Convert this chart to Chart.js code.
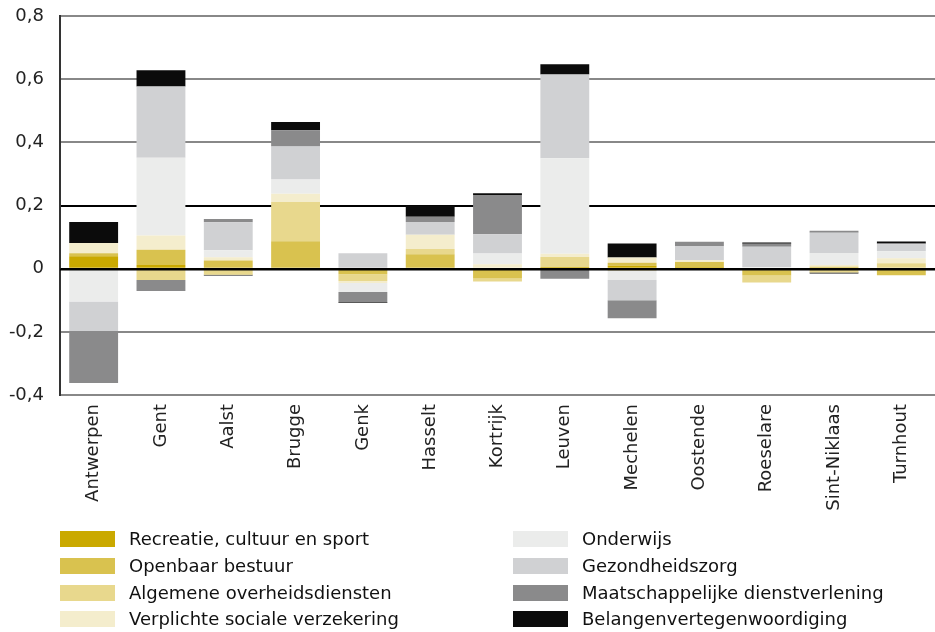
<!DOCTYPE html>
<html>
<head>
<meta charset="utf-8">
<script src="https://cdn.jsdelivr.net/npm/chart.js@4"></script>
<style>
  body { margin: 0; background: #fff; }
  #wrap { position: relative; width: 935px; height: 632px; }
  #legend { position: absolute; left: 0; top: 0; width: 935px; height: 632px; pointer-events: none;
    font-family: "DejaVu Sans", sans-serif; font-size: 18px; color: #111; }
  .item { position: absolute; height: 16px; }
  .sw { position: absolute; left: 0; top: 0; width: 55px; height: 16px; }
  .lbl { position: absolute; left: 69px; top: -4px; white-space: nowrap; line-height: 24px; }
</style>
</head>
<body>
<div id="wrap">
  <canvas id="chart" width="935" height="632"></canvas>
  <div id="legend"></div>
</div>
<script>
const cities = ["Antwerpen", "Gent", "Aalst", "Brugge", "Genk", "Hasselt", "Kortrijk",
  "Leuven", "Mechelen", "Oostende", "Roeselare", "Sint-Niklaas", "Turnhout"];

const seriesNames = [
  "Recreatie, cultuur en sport",
  "Openbaar bestuur",
  "Algemene overheidsdiensten",
  "Verplichte sociale verzekering",
  "Onderwijs",
  "Gezondheidszorg",
  "Maatschappelijke dienstverlening",
  "Belangenvertegenwoordiging"
];

const recreatie   = [0.039, 0.012, -0.004, 0, 0, -0.004, 0, 0.005, 0.009, 0.005, -0.005, 0, 0.003];
const openbaar    = [0.010, 0.048, 0.026, 0.087, -0.018, 0.046, -0.031, 0, 0.010, 0.016, -0.017, 0.006, -0.021];
const algemene    = [0, -0.036, -0.015, 0.124, -0.021, 0.016, -0.010, 0.032, -0.006, 0, -0.022, -0.012, 0.014];
const verplichte  = [0.032, 0.045, 0.010, 0.026, -0.006, 0.045, 0.014, 0.010, 0.016, 0.006, 0, 0.006, 0.016];
const onderwijs   = [-0.104, 0.246, 0.022, 0.045, -0.029, 0, 0.034, 0.303, -0.030, -0.003, 0.005, 0.038, 0.022];
const gezondheid  = [-0.093, 0.226, 0.089, 0.105, 0.049, 0.041, 0.061, 0.265, -0.064, 0.045, 0.064, 0.064, 0.022];
const maatschap   = [-0.165, -0.035, 0.010, 0.051, -0.032, 0.016, 0.124, -0.032, -0.057, 0.013, 0.010, 0.006, 0.003];
const belangen    = [0.067, 0.051, -0.003, 0.026, -0.003, 0.036, 0.006, 0.032, 0.045, 0, 0.004, -0.003, 0.006];

const seriesValues = [recreatie, openbaar, algemene, verplichte, onderwijs, gezondheid, maatschap, belangen];
const colors = ["#caa900", "#d9c24f", "#e8d88d", "#f4edcd", "#ebeceb", "#d0d1d3", "#8a8a8b", "#0b0b0b"];

const yTicks = [-0.4, -0.2, 0, 0.2, 0.4, 0.6, 0.8];

function fmt(v) {
  if (Math.abs(v) < 1e-9) return "0";
  return v.toFixed(1).replace(".", ",");
}

function noPad(s) {
  s.paddingTop = 0; s.paddingBottom = 0; s.paddingLeft = 0; s.paddingRight = 0;
}

// zero line over the bars
const zeroLine = {
  id: "zeroLine",
  afterDatasetsDraw(chart) {
    const { ctx, chartArea, scales } = chart;
    const y = Math.round(scales.y.getPixelForValue(0)) + 0.5;
    ctx.save();
    ctx.strokeStyle = "#000";
    ctx.lineWidth = 2;
    ctx.beginPath();
    ctx.moveTo(chartArea.left, y);
    ctx.lineTo(chartArea.right, y);
    ctx.stroke();
    ctx.restore();
  }
};

const chart = new Chart(document.getElementById("chart").getContext("2d"), {
  type: "bar",
  data: {
    labels: cities,
    datasets: seriesNames.map((name, i) => ({
      label: name,
      data: seriesValues[i],
      backgroundColor: colors[i],
      borderWidth: 0,
      categoryPercentage: 1,
      barPercentage: 0.726
    }))
  },
  options: {
    responsive: false,
    animation: false,
    layout: { padding: { top: 16, right: 0, left: 0, bottom: 0 } },
    plugins: { legend: { display: false }, tooltip: { enabled: false } },
    scales: {
      x: {
        stacked: true,
        grid: { display: false, drawTicks: false },
        border: { display: false },
        ticks: {
          minRotation: 90, maxRotation: 90, padding: 9,
          color: "#222",
          font: { family: "DejaVu Sans", size: 18 }
        },
        afterFit: s => { s.height = 237; noPad(s); }
      },
      y: {
        stacked: true,
        min: -0.4, max: 0.8,
        afterBuildTicks: s => { s.ticks = yTicks.map(v => ({ value: v })); },
        grid: {
          drawTicks: false,
          lineWidth: 2,
          color: c => (Math.abs(c.tick.value - 0.2) < 1e-6 || Math.abs(c.tick.value) < 1e-6) ? "#000" : "#888"
        },
        border: { display: true, color: "#333", width: 2 },
        ticks: {
          padding: 16,
          color: "#222",
          font: { family: "DejaVu Sans", size: 18 },
          callback: v => fmt(v)
        },
        afterFit: s => { s.width = 60; noPad(s); }
      }
    }
  },
  plugins: [zeroLine]
});

// legend in two columns, built from the datasets
const legend = document.getElementById("legend");
const rowTops = [531, 558, 585, 611];
chart.data.datasets.forEach((ds, i) => {
  const col = Math.floor(i / 4), row = i % 4;
  const item = document.createElement("div");
  item.className = "item";
  item.style.left = (col === 0 ? 60 : 513) + "px";
  item.style.top = rowTops[row] + "px";
  item.innerHTML = '<div class="sw" style="background:' + ds.backgroundColor + '"></div><div class="lbl"></div>';
  item.querySelector(".lbl").textContent = ds.label;
  legend.appendChild(item);
});
</script>
</body>
</html>
